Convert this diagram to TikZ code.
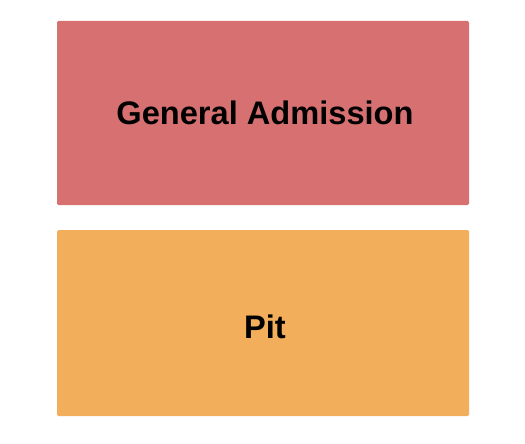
\documentclass[tikz,border=0pt]{standalone}
\usepackage{fontspec}
\setmainfont{Liberation Sans}
\definecolor{gared}{HTML}{D77071}
\definecolor{pitorange}{HTML}{F2AE5B}
\begin{document}
\begin{tikzpicture}[x=1pt,y=-1pt,
  section/.style={rounded corners=1.5pt},
  sectlabel/.style={font=\fontsize{32.6}{38}\selectfont\bfseries, inner sep=0pt}]
\useasboundingbox (0,0) rectangle (525,444);
\fill[white] (0,0) rectangle (525,444);
\fill[gared, section] (57,21) rectangle (469,205);
\fill[pitorange, section] (57,230) rectangle (469,416);
\node[sectlabel] (ga) at (265,113) {General Admission};
\node[sectlabel] (pit) at (265,327) {Pit};
\end{tikzpicture}
\end{document}
